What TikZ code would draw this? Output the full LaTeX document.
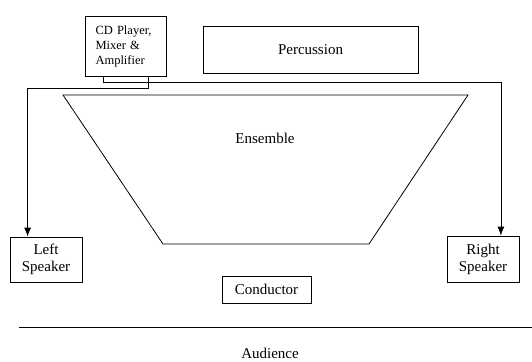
\documentclass[tikz,border=0pt]{standalone}
\usepackage{fontspec}
\setmainfont{Liberation Serif}
\usetikzlibrary{arrows.meta,calc,positioning}

\begin{document}
\begin{tikzpicture}
   [x=1pt,y=-1pt,line width=0.8pt,
	box/.style={rectangle,draw,inner sep=0pt,align=center,
	 font=\fontsize{15}{17}\selectfont},
	wire/.style={-{Latex[length=9pt,width=7pt]},line width=0.8pt}]

\useasboundingbox (0,0) rectangle (532,361);

\node [box,minimum width=81pt,minimum height=60pt,text width=60pt,align=left,
	font=\fontsize{12.5}{15}\selectfont] (cd) at (125.5,46) {CD Player,\\ Mixer \&\\ Amplifier};
\node [box,minimum width=215pt,minimum height=47pt] (perc) at (310.5,49.5) {Percussion};
\node [box,minimum width=72pt,minimum height=45pt] (lspk) at (46,259.5) {Left\\ Speaker};
\node [box,minimum width=72pt,minimum height=46pt] (rspk) at (483,259) {Right\\ Speaker};
\node [box,minimum width=89pt,minimum height=27pt] (cond) at (266.5,289.5) {Conductor};

% ensemble
\draw (63,95) -- (468,95) -- (369,244) -- (163,244) -- cycle;
\node [font=\fontsize{15}{17}\selectfont] (ens) at (265,138) {Ensemble};

% wires to the speakers
\draw [wire] (cd.south) ++(22.5,0) -- ++(0,12) -| ($(lspk.north west)+(18,0)$);
\draw [wire] (cd.south) ++(-22.5,0) -- ++(0,6) -| ($(rspk.north east)+(-18.5,0)$);

\draw (18.5,327) -- (532,327);
\node [font=\fontsize{15}{17}\selectfont] (aud) at (270,353) {Audience};
\end{tikzpicture}
\end{document}
